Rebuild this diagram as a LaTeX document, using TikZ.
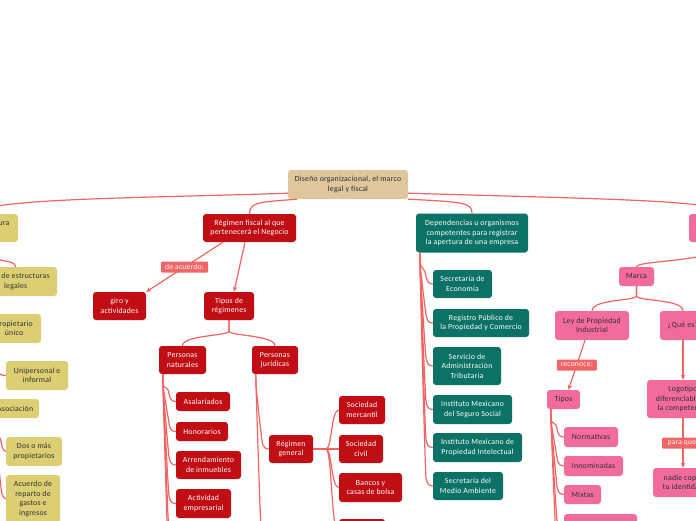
\documentclass[tikz,border=0pt]{standalone}
\usepackage{fontspec}
\setmainfont{Carlito}[LetterSpace=3]
\usetikzlibrary{arrows.meta}
\definecolor{redn}{HTML}{C10E14}
\definecolor{tealn}{HTML}{0C7266}
\definecolor{pinkn}{HTML}{F16C9D}
\definecolor{yellown}{HTML}{DCCF73}
\definecolor{tann}{HTML}{DFC69D}
\definecolor{cline}{HTML}{F26461}
\definecolor{labc}{HTML}{F06565}
\definecolor{darktext}{HTML}{2E2E2E}
\newcommand\mybranch[5]{\draw[conn] ([xshift=4pt]#1.south west) -- (#2,{#3+10}) .. controls (#2,{#3+15}) and ({#2+5},{#5-16}) .. ({#2+6},{#5-8}) .. controls ({#2+7},{#5-2}) and ({#2+9},#5) .. (#4.west);}
\begin{document}
\begin{tikzpicture}[x=1pt,y=-1pt,
  box/.style={rectangle,rounded corners=3pt,inner sep=1.5pt,align=center,font=\fontsize{7.8}{9.4}\selectfont},
  rbox/.style={box,fill=redn,text=white},
  tbox/.style={box,fill=tealn,text=white},
  pbox/.style={box,fill=pinkn,text=darktext},
  ybox/.style={box,fill=yellown,text=darktext},
  rootbox/.style={box,fill=tann,text=darktext},
  conn/.style={draw=cline,line width=1.2pt},
  arr/.style={conn,-{Stealth[length=5pt,width=4.5pt]}},
  lab/.style={fill=labc,text=white!92!pink,inner sep=1pt,rounded corners=1pt,minimum height=11pt,font=\fontsize{7.6}{9}\selectfont}]
\useasboundingbox (0,0) rectangle (696,520);

% root
\node[rootbox,minimum width=120pt,minimum height=29pt] (root) at (348,184.5) {Diseño organizacional, el marco\\legal y fiscal};

% yellow
\node[ybox,minimum width=78.6pt,minimum height=28pt] (Y1) at (-21.3,228) {Tipo de estructura\\legal};
\node[ybox,minimum width=82.6pt,minimum height=29pt] (Y2) at (15.7,281.5) {Tipos de estructuras\\legales};
\node[ybox,minimum width=54pt,minimum height=29pt] (Y3) at (14,328.5) {Propietario\\único};
\node[ybox,minimum width=62pt,minimum height=29pt] (Y4) at (37,375.5) {Unipersonal e\\informal};
\node[ybox,minimum width=47.6pt,minimum height=19pt] (Y5) at (15.2,408.5) {Asociación};
\node[ybox,minimum width=56pt,minimum height=29pt] (Y6) at (34,451.5) {Dos o más\\propietarios};
\node[ybox,minimum width=54pt,minimum height=48pt] (Y7) at (33,499) {Acuerdo de\\reparto de\\gastos e\\ingresos};

% red
\node[rbox,minimum width=93pt,minimum height=28pt] (R1) at (249.5,228) {Régimen fiscal al que\\pertenecerá el Negocio};
\node[rbox,minimum width=53pt,minimum height=28pt] (R2) at (119.5,306) {giro y\\actividades};
\node[rbox,minimum width=50pt,minimum height=28pt] (R3) at (229,306) {Tipos de\\régimenes};
\node[rbox,minimum width=47pt,minimum height=28pt] (R4) at (182.5,360) {Personas\\naturales};
\node[rbox,minimum width=46pt,minimum height=28pt] (R5) at (275,360) {Personas\\jurídicas};
\node[rbox,minimum width=54pt,minimum height=19pt] (A1) at (203,401.5) {Asalariados};
\node[rbox,minimum width=52pt,minimum height=19pt] (A2) at (202,431.5) {Honorarios};
\node[rbox,minimum width=65pt,minimum height=28pt] (A3) at (208.5,465) {Arrendamiento\\de inmuebles};
\node[rbox,minimum width=55pt,minimum height=29pt] (A4) at (203.5,503.5) {Actividad\\empresarial};
\coordinate (A5) at (177,541);
\coordinate (A6) at (177,580);
\node[rbox,minimum width=44pt,minimum height=28pt] (RG) at (291,449) {Régimen\\general};
\coordinate (R5b) at (269,560);
\node[rbox,minimum width=46pt,minimum height=28pt] (S1) at (362,410) {Sociedad\\mercantil};
\node[rbox,minimum width=44pt,minimum height=28pt] (S2) at (361,449) {Sociedad\\civil};
\node[rbox,minimum width=63pt,minimum height=29pt] (S3) at (370.5,487.5) {Bancos y\\casas de bolsa};
\node[rbox,minimum width=46pt,minimum height=28pt] (S4) at (362,533) {};

% teal
\node[tbox,minimum width=112pt,minimum height=39pt] (T0) at (472,233) {Dependencias u organismos\\competentes para registrar\\la apertura de una empresa};
\node[tbox,minimum width=59pt,minimum height=28pt] (T1) at (462.5,284) {Secretaría de\\Economía};
\node[tbox,minimum width=96pt,minimum height=28pt] (T2) at (481,323) {Registro Público de\\la Propiedad y Comercio};
\node[tbox,minimum width=68pt,minimum height=38pt] (T3) at (467,366) {Servicio de\\Administración\\Tributaria};
\node[tbox,minimum width=79pt,minimum height=29pt] (T4) at (472.5,409.5) {Instituto Mexicano\\del Seguro Social};
\node[tbox,minimum width=89pt,minimum height=29pt] (T5) at (477.5,447.5) {Instituto Mexicano de\\Propiedad Intelectual};
\node[tbox,minimum width=70pt,minimum height=28pt] (T6) at (468,486) {Secretaría del\\Medio Ambiente};

% pink
\node[pbox,minimum width=72pt,minimum height=28pt] (P0) at (725,228) {};
\node[pbox,minimum width=35pt,minimum height=19pt] (M) at (636.5,276.5) {Marca};
\node[pbox,minimum width=74pt,minimum height=29pt] (L) at (592,325.5) {Ley de Propiedad\\Industrial};
\node[pbox,minimum width=46pt,minimum height=29pt] (Q) at (683,325.5) {¿Qué es?};
\node[pbox,minimum width=33pt,minimum height=19pt] (Tp) at (563.5,399.5) {Tipos};
\node[pbox,minimum width=54pt,minimum height=20pt] (N1) at (591,437) {Normativas};
\node[pbox,minimum width=59pt,minimum height=20pt] (N2) at (593.5,466) {Innominadas};
\node[pbox,minimum width=37pt,minimum height=19pt] (N3) at (582.5,494.5) {Mixtas};
\node[pbox,minimum width=73pt,minimum height=28pt] (N4) at (600.5,528) {};
\coordinate (N5) at (564,565);
\node[pbox,minimum width=72pt,minimum height=38pt] (Lg) at (683,399) {Logotipo\\diferenciable de\\la competencia};
\node[pbox,minimum width=60pt,minimum height=29pt] (Nd) at (683,482.5) {nadie copie\\tu identidad};

% connectors from root
\draw[conn] ([yshift=6pt]root.south west) .. controls (150,198) and (-21,198) .. (Y1.north);
\draw[conn] ([xshift=9pt]root.south west) .. controls (260,202) and (249.5,202) .. (R1.north);
\draw[conn] (root.south east) .. controls (465,202) and (472,203) .. (T0.north);
\draw[conn] ([yshift=6pt]root.south east) .. controls (600,199) and (725,200) .. (P0.north);

% yellow
\draw[conn] (Y1.south) .. controls (-21,265) and (15.7,257) .. (Y2.north);
\mybranch{Y2}{-21.6}{296}{Y3}{328.5}
\mybranch{Y2}{-21.6}{296}{Y5}{408.5}
\mybranch{Y3}{-9}{343}{Y4}{375.5}
\mybranch{Y5}{-4.6}{418}{Y6}{451.5}
\mybranch{Y5}{-4.6}{418}{Y7}{499}

% red
\draw[arr] ([xshift=-26.5pt]R1.south) -- node[lab,minimum width=47pt] (lb1) {de acuerdo:} (R2.north east);
\draw[arr] ([xshift=-4.5pt]R1.south) -- ([xshift=5pt]R3.north);
\draw[conn] (R3.south) -- (229,331) .. controls (229,336) and (182.5,335) .. (R4.north);
\draw[conn] (R3.south) -- (229,331) .. controls (229,336) and (275,335) .. (R5.north);
\mybranch{R4}{163}{374}{A1}{401.5}
\mybranch{R4}{163}{374}{A2}{431.5}
\mybranch{R4}{163}{374}{A3}{465}
\mybranch{R4}{163}{374}{A4}{503.5}
\mybranch{R4}{163}{374}{A5}{541}
\mybranch{R4}{163}{374}{A6}{580}
\mybranch{R5}{256}{374}{RG}{449}
\mybranch{R5}{256}{374}{R5b}{560}
\draw[conn] (RG.east) -- (326,449) .. controls (332,449) and (331,410) .. (S1.west);
\draw[conn] (RG.east) -- (S2.west);
\draw[conn] (RG.east) -- (326,449) .. controls (332,449) and (331,487.5) .. (S3.west);
\draw[conn] (RG.east) -- (326,449) .. controls (332,449) and (331,533) .. (S4.west);

% teal
\mybranch{T0}{420}{252.5}{T1}{284}
\mybranch{T0}{420}{252.5}{T2}{323}
\mybranch{T0}{420}{252.5}{T3}{366}
\mybranch{T0}{420}{252.5}{T4}{409.5}
\mybranch{T0}{420}{252.5}{T5}{447.5}
\mybranch{T0}{420}{252.5}{T6}{486}

% pink
\draw[conn] (P0.south) .. controls (725,262) and (636.5,260) .. (M.north);
\draw[conn] (M.south) -- (636.5,296) .. controls (636.5,301) and (592,299) .. (L.north);
\draw[conn] (M.south) -- (636.5,296) .. controls (636.5,301) and (683,299) .. (Q.north);
\draw[arr] ([xshift=-7pt]L.south) -- node[lab,minimum width=40pt] (lb2) {reconoce:} ([xshift=5pt]Tp.north);
\mybranch{Tp}{551}{409.5}{N1}{437}
\mybranch{Tp}{551}{409.5}{N2}{466}
\mybranch{Tp}{551}{409.5}{N3}{494.5}
\mybranch{Tp}{551}{409.5}{N4}{528}
\mybranch{Tp}{551}{409.5}{N5}{565}
\draw[arr] (Q.south) -- (Lg.north);
\draw[arr] (Lg.south) -- node[lab,minimum width=42pt] (lb3) {para que:} (Nd.north);
\end{tikzpicture}
\end{document}
